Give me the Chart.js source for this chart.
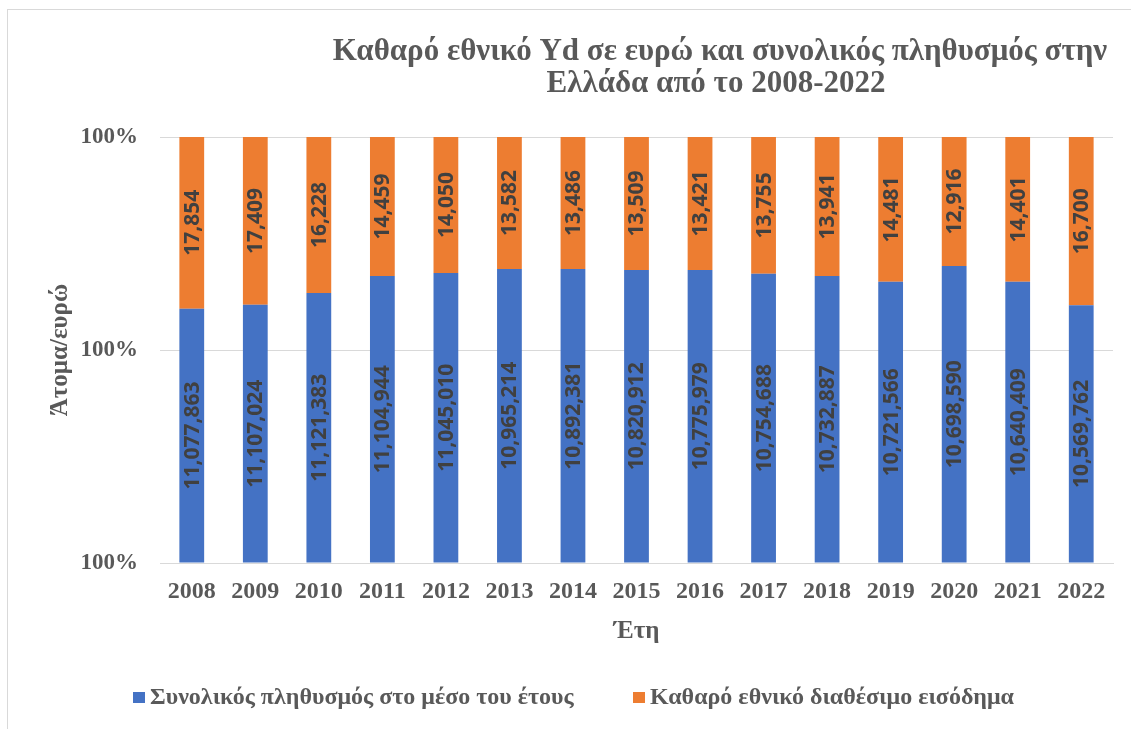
<!DOCTYPE html>
<html>
<head>
<meta charset="utf-8">
<script src="https://cdn.jsdelivr.net/npm/chart.js@4"></script>
<style>
  body { margin: 0; background: #fff; }
  #wrap { width: 1131px; height: 729px; position: relative; }
</style>
</head>
<body>
<div id="wrap"><canvas id="ydChart"></canvas></div>
<script>
const years = ['2008', '2009', '2010', '2011', '2012', '2013', '2014', '2015',
    '2016', '2017', '2018', '2019', '2020', '2021', '2022'];

// values shown in the labels
const population = [11077863, 11107024, 11121383, 11104944, 11045010, 10965214, 10892381,
    10820912, 10775979, 10754688, 10732887, 10721566, 10698590, 10640409, 10569762];
const income = [17854, 17409, 16228, 14459, 14050, 13582, 13486, 13509, 13421, 13755,
    13941, 14481, 12916, 14401, 16700];

// share of each bar as drawn
const popShare = [0.597, 0.606, 0.634, 0.674, 0.681, 0.690, 0.690, 0.688, 0.688, 0.679,
    0.674, 0.660, 0.697, 0.660, 0.605];
const incomeShare = [0.403, 0.394, 0.366, 0.326, 0.319, 0.310, 0.310, 0.312, 0.312, 0.321,
    0.326, 0.340, 0.303, 0.340, 0.395];

const yTicks = [0, 0.5, 1];
const tickLabel = '100%';

const titleLines = ['Καθαρό εθνικό Yd σε ευρώ και συνολικός πληθυσμός στην', 'Ελλάδα από το 2008-2022'];

const grey = '#595959';
const serif = '"Liberation Serif", "Times New Roman", serif';

// frame, title, legend and bar labels
const decorPlugin = {
    id: 'decor',
    beforeDraw(chart) {
        const c = chart.ctx;
        c.save();
        c.strokeStyle = '#d9d9d9';
        c.lineWidth = 1;
        c.strokeRect(7.5, 9.5, 1200, 800);
        c.restore();
    },
    afterDatasetsDraw(chart) {
        const c = chart.ctx;
        c.save();
        c.fillStyle = '#404040';
        c.font = 'bold 21px "Open Sans", sans-serif';
        c.textAlign = 'center';
        c.textBaseline = 'middle';
        const sets = [population, income];
        chart.data.datasets.forEach((ds, di) => {
            chart.getDatasetMeta(di).data.forEach((bar, i) => {
                const cy = (bar.y + bar.base) / 2;
                c.save();
                c.translate(bar.x + 1, cy);
                c.rotate(-Math.PI / 2);
                c.fillText(sets[di][i].toLocaleString('en-US'), 0, 0);
                c.restore();
            });
        });
        c.restore();
    },
    afterDraw(chart) {
        const c = chart.ctx;
        c.save();
        c.fillStyle = grey;
        c.font = 'bold 31px ' + serif;
        c.textAlign = 'center';
        c.textBaseline = 'alphabetic';
        c.fillText(titleLines[0], 720, 60);
        c.fillText(titleLines[1], 716, 92);

        // legend
        c.font = 'bold 24px ' + serif;
        c.textAlign = 'left';
        c.textBaseline = 'middle';
        const items = [[133, 0], [633, 1]];
        items.forEach(([x, di]) => {
            const ds = chart.data.datasets[di];
            c.fillStyle = ds.backgroundColor;
            c.fillRect(x, 692, 12, 11);
            c.fillStyle = grey;
            c.fillText(ds.label, x + 17, 698);
        });
        c.restore();
    }
};

new Chart(document.getElementById('ydChart'), {
    type: 'bar',
    data: {
        labels: years,
        datasets: [
            {
                label: 'Συνολικός πληθυσμός στο μέσο του έτους',
                data: popShare,
                backgroundColor: '#4472C4'
            },
            {
                label: 'Καθαρό εθνικό διαθέσιμο εισόδημα',
                data: incomeShare,
                backgroundColor: '#ED7D31'
            }
        ]
    },
    options: {
        responsive: true,
        maintainAspectRatio: false,
        animation: false,
        layout: { padding: { left: 42, right: 18, top: 137, bottom: 78 } },
        datasets: { bar: { categoryPercentage: 1, barPercentage: 0.39 } },
        plugins: {
            legend: { display: false },
            tooltip: { enabled: false }
        },
        scales: {
            x: {
                stacked: true,
                grid: { display: false, drawTicks: false },
                border: { color: '#d9d9d9', width: 1 },
                ticks: { color: grey, padding: 14, font: { family: serif, size: 24, weight: 'bold' } },
                title: { display: true, text: 'Έτη', color: grey, padding: 4, font: { family: serif, size: 25, weight: 'bold' } },
                afterFit(scale) { scale.height = 88; }
            },
            y: {
                stacked: true,
                min: 0,
                max: 1,
                afterBuildTicks(scale) { scale.ticks = yTicks.map(v => ({ value: v })); },
                grid: { color: '#d9d9d9', drawTicks: false },
                border: { display: false },
                ticks: {
                    color: grey,
                    padding: 22,
                    font: { family: serif, size: 23, weight: 'bold' },
                    callback: () => tickLabel
                },
                title: { display: true, text: 'Άτομα/ευρώ', color: grey, padding: 4, font: { family: serif, size: 25, weight: 'bold' } },
                afterFit(scale) { scale.width = 118; }
            }
        }
    },
    plugins: [decorPlugin]
});
</script>
</body>
</html>
